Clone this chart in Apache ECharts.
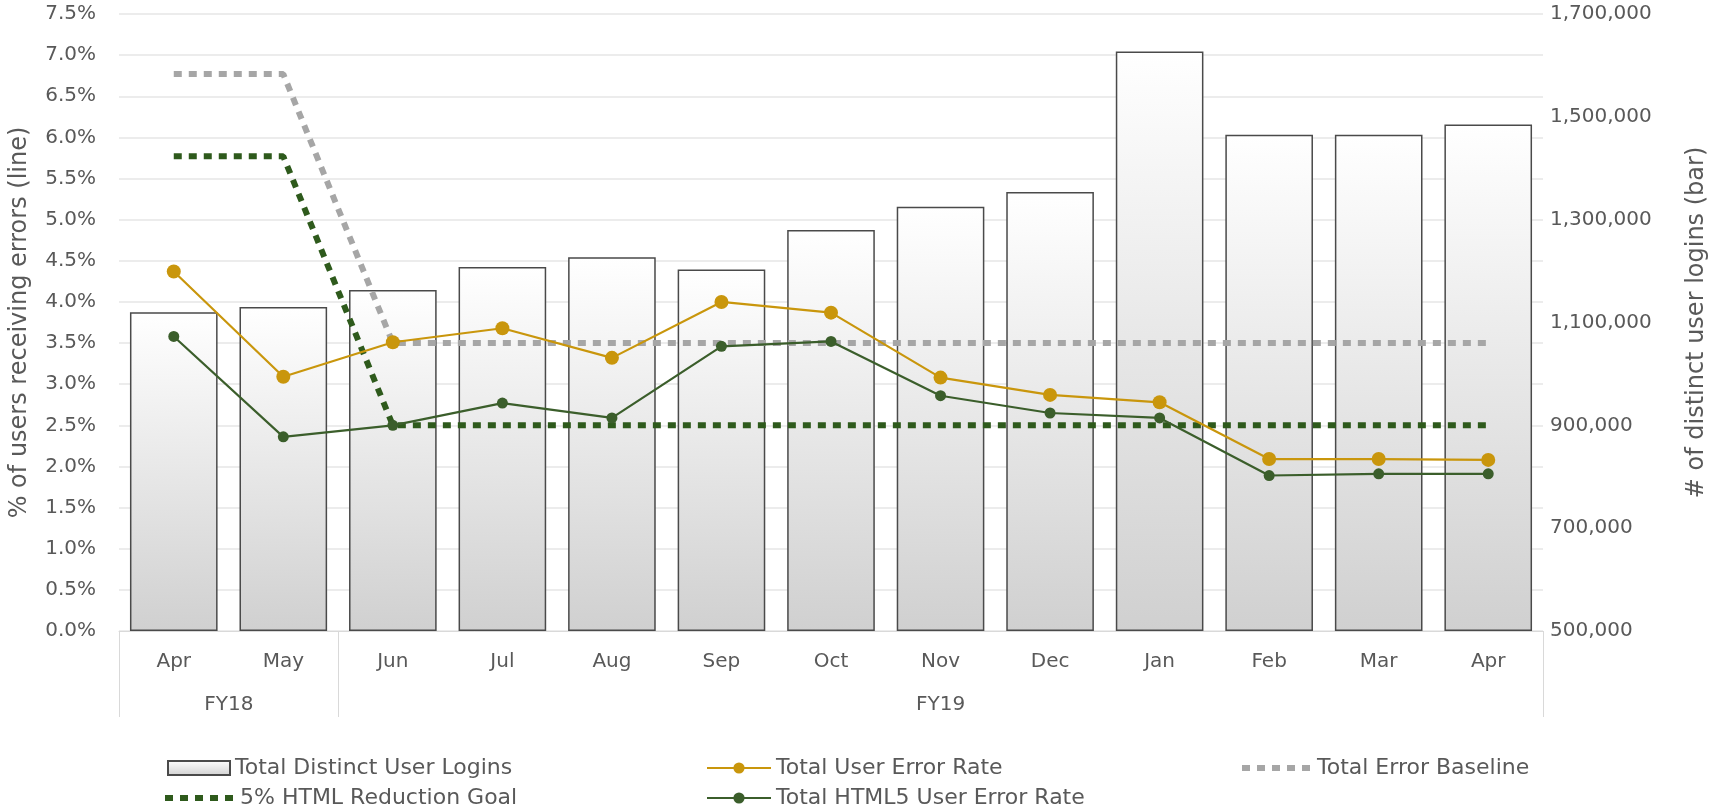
<!DOCTYPE html>
<html>
<head>
<meta charset="utf-8">
<script src="https://cdn.jsdelivr.net/npm/echarts@6/dist/echarts.min.js"></script>
<style>
  html, body { margin: 0; padding: 0; background: #fff; }
  #main { width: 1717px; height: 809px; }
</style>
</head>
<body>
<div id="main"></div>
<script>
  // data
  const months = ['Apr', 'May', 'Jun', 'Jul', 'Aug', 'Sep', 'Oct', 'Nov', 'Dec', 'Jan', 'Feb', 'Mar', 'Apr'];
  const fiscalYears = ['FY18', 'FY19'];
  const logins = [1120000, 1130000, 1163000, 1208000, 1227000, 1203000, 1280000, 1325000, 1354000, 1627000, 1465000, 1465000, 1485000];
  const userErrorRate = [4.37, 3.09, 3.51, 3.68, 3.32, 4.00, 3.87, 3.08, 2.87, 2.78, 2.09, 2.09, 2.08];
  const html5ErrorRate = [3.58, 2.36, 2.50, 2.77, 2.59, 3.46, 3.52, 2.86, 2.65, 2.59, 1.89, 1.91, 1.91];
  const errorBaseline = [6.77, 6.77, 3.5, 3.5, 3.5, 3.5, 3.5, 3.5, 3.5, 3.5, 3.5, 3.5, 3.5];
  const reductionGoal = [5.77, 5.77, 2.5, 2.5, 2.5, 2.5, 2.5, 2.5, 2.5, 2.5, 2.5, 2.5, 2.5];

  const font = 'DejaVu Sans';
  const grey = '#595959';

  let myChart = echarts.init(document.getElementById('main'));

  function commas(v) {
    return String(v).replace(/\B(?=(\d{3})+(?!\d))/g, ',');
  }

  // one legend per entry so the two rows line up in columns
  function legendAt(left, top, width, item) {
    return {
      left: left, top: top, itemWidth: width, itemHeight: 14, itemGap: 5,
      textStyle: { color: grey, fontSize: 22, fontFamily: font, lineHeight: 22 },
      data: [item]
    };
  }

  myChart.setOption({
    animation: false,
    textStyle: { fontFamily: font },
    grid: { left: 115, right: 171, top: 14, bottom: 178 },
    legend: [
      legendAt(162, 752, 62, { name: 'Total Distinct User Logins', icon: 'rect' }),
      legendAt(701, 752, 64, { name: 'Total User Error Rate' }),
      legendAt(1234, 752, 70, { name: 'Total Error Baseline', lineStyle: { width: 6 }, itemStyle: { opacity: 0 } }),
      legendAt(157, 782, 70, { name: '5% HTML Reduction Goal', lineStyle: { width: 6 }, itemStyle: { opacity: 0 } }),
      legendAt(701, 782, 64, { name: 'Total HTML5 User Error Rate' })
    ],
    xAxis: [
      {
        type: 'category',
        data: months,
        axisLine: { lineStyle: { color: '#d9d9d9' } },
        axisTick: { show: false },
        axisLabel: { color: grey, fontSize: 20, margin: 21 }
      },
      {
        // fiscal year row with the long separator lines
        type: 'category',
        position: 'bottom',
        data: months,
        axisLine: { show: false },
        axisTick: {
          show: true,
          length: 86,
          interval: function (i) { return i === 0 || i === 2; },
          lineStyle: { color: '#d9d9d9' }
        },
        axisLabel: {
          color: grey, fontSize: 20, margin: 64,
          interval: function (i) { return i === 0 || i === 7; },
          formatter: function (v, i) { return i === 0 ? '{a|' + fiscalYears[0] + '}' : fiscalYears[1]; },
          rich: { a: { color: grey, fontSize: 20, fontFamily: font, padding: [0, 0, 0, 110] } }
        }
      }
    ],
    yAxis: [
      {
        type: 'value',
        min: 0, max: 7.5, interval: 0.5,
        name: '% of users receiving errors (line)',
        nameLocation: 'middle',
        nameGap: 87,
        nameRotate: 90,
        nameTextStyle: { color: grey, fontSize: 24 },
        axisLabel: { color: grey, fontSize: 20, margin: 23, formatter: v => v.toFixed(1) + '%' },
        axisLine: { show: false },
        axisTick: { show: false },
        splitLine: { lineStyle: { color: '#e6e6e6', width: 1.5 } }
      },
      {
        type: 'value',
        min: 500000, max: 1700000, interval: 200000,
        startValue: 500000,
        name: '# of distinct user logins (bar)',
        nameLocation: 'middle',
        nameGap: 142,
        nameRotate: 90,
        nameTextStyle: { color: grey, fontSize: 24 },
        axisLabel: { color: grey, fontSize: 20, margin: 7, formatter: v => commas(v) },
        axisLine: { show: false },
        axisTick: { show: false },
        splitLine: { show: false }
      }
    ],
    series: [
      {
        name: 'Total Distinct User Logins',
        type: 'bar',
        yAxisIndex: 1,
        barCategoryGap: '20%',
        data: logins,
        itemStyle: {
          color: new echarts.graphic.LinearGradient(0, 0, 0, 1, [
            { offset: 0, color: '#ffffff' },
            { offset: 1, color: '#d0d0d0' }
          ]),
          borderColor: '#4a4a4a',
          borderWidth: 1.5
        }
      },
      {
        name: 'Total User Error Rate',
        type: 'line',
        data: userErrorRate,
        symbol: 'circle',
        symbolSize: 14,
        lineStyle: { color: '#c9960c', width: 2.2 },
        itemStyle: { color: '#c9960c' },
        z: 4
      },
      {
        name: 'Total Error Baseline',
        type: 'line',
        data: errorBaseline,
        symbol: 'none',
        lineStyle: { color: '#a6a6a6', width: 6, type: [8, 7] },
        itemStyle: { color: '#a6a6a6' },
        z: 3
      },
      {
        name: '5% HTML Reduction Goal',
        type: 'line',
        data: reductionGoal,
        symbol: 'none',
        lineStyle: { color: '#2e5a1c', width: 6, type: [8, 7] },
        itemStyle: { color: '#2e5a1c' },
        z: 3
      },
      {
        name: 'Total HTML5 User Error Rate',
        type: 'line',
        data: html5ErrorRate,
        symbol: 'circle',
        symbolSize: 11,
        lineStyle: { color: '#3b5e2b', width: 2.2 },
        itemStyle: { color: '#3b5e2b' },
        z: 4
      }
    ]
  });
</script>
</body>
</html>
